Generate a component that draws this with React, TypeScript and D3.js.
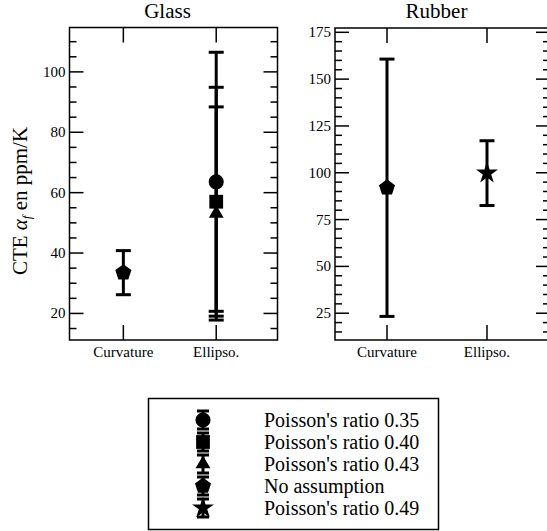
import * as d3 from "d3";

// --- data ---
const categories = ["Curvature", "Ellipso."];
const seriesNames = [
  "Poisson's ratio 0.35",
  "Poisson's ratio 0.40",
  "Poisson's ratio 0.43",
  "No assumption",
  "Poisson's ratio 0.49",
];
const seriesSymbols = ["circle", "square", "triangle", "pentagon", "star"];

// glass: series index, category index, value, half error
const glassSeries = [3, 0, 1, 2];
const glassCats = [0, 1, 1, 1];
const glassValues = [33.5, 63.6, 57.0, 53.1];
const glassErrors = [7.3, 42.9, 37.9, 35.3];

const rubberSeries = [3, 4];
const rubberCats = [0, 1];
const rubberValues = [92.0, 99.8];
const rubberErrors = [68.7, 17.3];

const glassMajorTicks = [20, 40, 60, 80, 100];
const rubberMajorTicks = [25, 50, 75, 100, 125, 150, 175];

const FONT = "Liberation Serif, Tinos, Times New Roman, DejaVu Serif, serif";

// regular pentagon, pointing up
const symbolPentagon = {
  draw(context: any, size: number) {
    const r = Math.sqrt(size / 2.378);
    for (let i = 0; i < 5; i++) {
      const a = -Math.PI / 2 + (i * 2 * Math.PI) / 5;
      const x = r * Math.cos(a);
      const y = r * Math.sin(a);
      if (i === 0) context.moveTo(x, y);
      else context.lineTo(x, y);
    }
    context.closePath();
  },
};

const symbolPath = (name: string) => {
  const types: any = {
    circle: [d3.symbolCircle, 180],
    square: [d3.symbolSquare, 190],
    triangle: [d3.symbolTriangle, 95],
    pentagon: [symbolPentagon, 170],
    star: [d3.symbolStar, 150],
  };
  const [type, size] = types[name];
  return d3.symbol().type(type).size(size)() as string;
};

type PanelProps = {
  title: string;
  left: number;
  right: number;
  top: number;
  bottom: number;
  xDomain: [number, number];
  yDomain: [number, number];
  majorTicks: number[];
  minorStep: number;
  series: number[];
  cats: number[];
  values: number[];
  errors: number[];
};

const Panel = (p: PanelProps) => {
  const x = d3.scaleLinear().domain(p.xDomain).range([p.left, p.right]);
  const y = d3.scaleLinear().domain(p.yDomain).range([p.bottom, p.top]);
  const minor = d3
    .range(Math.ceil(p.yDomain[0] / p.minorStep) * p.minorStep, p.yDomain[1], p.minorStep)
    .filter((v) => !p.majorTicks.includes(v));
  const capW = 7.5;
  return (
    <g>
      <text x={(p.left + p.right) / 2 - 6} y={18} textAnchor="middle" style={{ fontFamily: FONT, fontSize: 21 }}>
        {p.title}
      </text>
      {/* y ticks, inward on both sides */}
      {p.majorTicks.map((v) => (
        <g key={"M" + v} stroke="#000" strokeWidth={1.5}>
          <line x1={p.left} x2={p.left + 14} y1={y(v)} y2={y(v)} />
          <line x1={p.right} x2={p.right - 14} y1={y(v)} y2={y(v)} />
        </g>
      ))}
      {minor.map((v) => (
        <g key={"m" + v} stroke="#000" strokeWidth={1.5}>
          <line x1={p.left} x2={p.left + 7} y1={y(v)} y2={y(v)} />
          <line x1={p.right} x2={p.right - 7} y1={y(v)} y2={y(v)} />
        </g>
      ))}
      {p.majorTicks.map((v) => (
        <text
          key={"l" + v}
          x={p.left - 4}
          y={y(v)}
          dy="0.33em"
          textAnchor="end"
          style={{ fontFamily: FONT, fontSize: 15 }}
        >
          {v}
        </text>
      ))}
      {/* x ticks */}
      {categories.map((c, i) => (
        <g key={c}>
          <line x1={x(i + 1)} x2={x(i + 1)} y1={p.bottom} y2={p.bottom - 15} stroke="#000" strokeWidth={1.5} />
          <line x1={x(i + 1)} x2={x(i + 1)} y1={p.top} y2={p.top + 15} stroke="#000" strokeWidth={1.5} />
          <text x={x(i + 1)} y={p.bottom + 17} textAnchor="middle" style={{ fontFamily: FONT, fontSize: 15 }}>
            {c}
          </text>
        </g>
      ))}
      <rect
        x={p.left}
        y={p.top}
        width={p.right - p.left}
        height={p.bottom - p.top}
        fill="none"
        stroke="#000"
        strokeWidth={1.5}
      />
      {/* error bars */}
      {p.values.map((v, i) => {
        const cx = x(p.cats[i] + 1);
        const hi = y(v + p.errors[i]);
        const lo = y(v - p.errors[i]);
        return (
          <g key={"e" + i} stroke="#000" strokeWidth={3}>
            <line x1={cx} x2={cx} y1={hi} y2={lo} />
            <line x1={cx - capW} x2={cx + capW} y1={hi} y2={hi} />
            <line x1={cx - capW} x2={cx + capW} y1={lo} y2={lo} />
          </g>
        );
      })}
      {p.values.map((v, i) => (
        <path
          key={"s" + i}
          d={symbolPath(seriesSymbols[p.series[i]])}
          transform={`translate(${x(p.cats[i] + 1)},${y(v)})`}
          fill="#000"
        />
      ))}
    </g>
  );
};

const Legend = () => {
  const rowY = d3.scaleLinear().domain([0, 4]).range([420, 508]);
  const sx = 203;
  return (
    <g>
      <rect x={148.5} y={398.5} width={290} height={131} fill="#fff" stroke="#000" strokeWidth={1.5} />
      {seriesNames.map((n, i) => (
        <g key={n} stroke="#000" strokeWidth={3}>
          <line x1={sx} x2={sx} y1={rowY(i) - 9} y2={rowY(i) + 9} />
          <line x1={sx - 6} x2={sx + 6} y1={rowY(i) - 9} y2={rowY(i) - 9} />
          <line x1={sx - 6} x2={sx + 6} y1={rowY(i) + 9} y2={rowY(i) + 9} />
        </g>
      ))}
      {seriesNames.map((n, i) => (
        <g key={"t" + n}>
          <path d={symbolPath(seriesSymbols[i])} transform={`translate(${sx},${rowY(i)})`} fill="#000" />
          <text x={264} y={rowY(i)} dy="0.35em" style={{ fontFamily: FONT, fontSize: 20 }}>
            {n}
          </text>
        </g>
      ))}
    </g>
  );
};

export default function App() {
  return (
    <svg width={547} height={531} style={{ position: "absolute", left: 0, top: 0, background: "#fff" }}>
      <rect width={547} height={531} fill="#fff" />
      <Panel
        title="Glass"
        left={69.5}
        right={277.5}
        top={27.5}
        bottom={340}
        xDomain={[0.42, 2.66]}
        yDomain={[11.2, 114.7]}
        majorTicks={glassMajorTicks}
        minorStep={5}
        series={glassSeries}
        cats={glassCats}
        values={glassValues}
        errors={glassErrors}
      />
      <Panel
        title="Rubber"
        left={335}
        right={550}
        top={28}
        bottom={340}
        xDomain={[0.48, 2.63]}
        yDomain={[10.7, 177.3]}
        majorTicks={rubberMajorTicks}
        minorStep={5}
        series={rubberSeries}
        cats={rubberCats}
        values={rubberValues}
        errors={rubberErrors}
      />
      <text
        transform="translate(27,201) rotate(-90)"
        textAnchor="middle"
        fill="#000"
        style={{ fontFamily: FONT, fontSize: 21 }}
      >
        CTE <tspan fontStyle="italic">α</tspan>
        <tspan fontSize={13} dy={4} fontStyle="italic">
          f
        </tspan>
        <tspan dy={-4}> en ppm/K</tspan>
      </text>
      <Legend />
    </svg>
  );
}
